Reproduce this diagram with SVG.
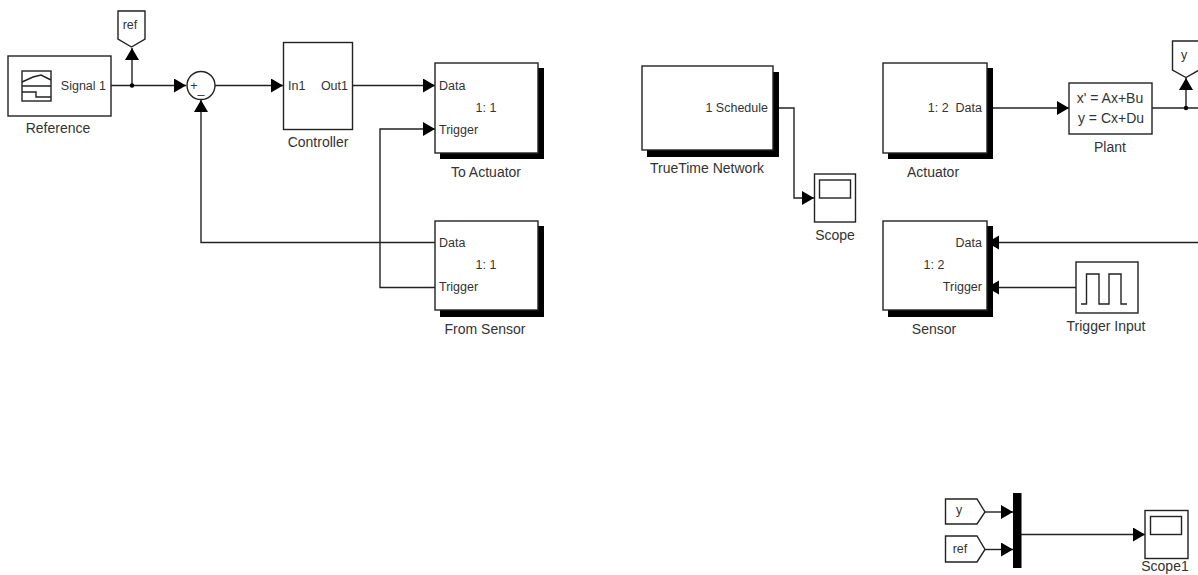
<svg xmlns="http://www.w3.org/2000/svg" width="1198" height="575" viewBox="0 0 1198 575">
<defs>
<marker id="a" markerUnits="userSpaceOnUse" markerWidth="14" markerHeight="16" refX="12" refY="7" orient="auto"><path d="M0 0L12 7L0 14z" fill="#000"/></marker>
</defs>
<style>
.b{fill:#fff;stroke:#222;stroke-width:1.4}
.s{fill:#000}
.c{fill:none;stroke:#222;stroke-width:1.4}
.ar{marker-end:url(#a)}
text{font-family:"Liberation Sans",Arial,sans-serif;font-size:12.5px;fill:#333;white-space:pre}
.n{font-size:14px}
.m{text-anchor:middle}
.e{text-anchor:end}
</style>
<rect width="1198" height="575" fill="#fff"/>
<g id="connectors">
<path class="c ar" d="M111 85.500H186"/>
<path class="c ar" d="M132 85.500V48"/>
<circle cx="132" cy="85.500" r="2.200" fill="#000"/>
<path class="c ar" d="M215 85.500H283"/>
<path class="c ar" d="M353 85.500H435"/>
<path class="c ar" d="M435 242.500H201V100"/>
<path class="c ar" d="M435 287.500H380V129H435"/>
<path class="c ar" d="M773 108H794V198H814"/>
<path class="c ar" d="M993 108H1069"/>
<path class="c" d="M1152 108H1198"/>
<path class="c ar" d="M1186 108V78"/>
<circle cx="1186" cy="108" r="2.200" fill="#000"/>
<path class="c ar" d="M1198 242.500H987"/>
<path class="c ar" d="M1076 287.500H987"/>
<path class="c ar" d="M985 512H1013"/>
<path class="c ar" d="M985 549.500H1013"/>
<path class="c ar" d="M1021 534.500H1145"/>
</g>
<g id="reference">
<rect class="b" x="8" y="56" width="103" height="60"/>
<rect class="b" x="22" y="71" width="29" height="30"/>
<path class="c" d="M22 86H51M22 82L33 77L41 75L51 80M22 92H36V97H51"/>
<text class="e" x="106" y="90">Signal 1</text>
<text class="m n" x="58" y="133">Reference</text>
</g>
<g id="ref-goto">
<path class="b" d="M118 11H145V39L131.500 47L118 39Z"/>
<text class="m" x="130" y="29">ref</text>
</g>
<g id="sum">
<circle class="b" cx="201" cy="85.500" r="14"/>
<text class="m" x="194" y="90">+</text>
<text class="m" x="201" y="93">_</text>
</g>
<g id="controller">
<rect class="b" x="283.500" y="42.500" width="69" height="87"/>
<text x="288" y="90">In1</text>
<text class="e" x="348" y="90">Out1</text>
<text class="m n" x="318" y="147">Controller</text>
</g>
<g id="to-actuator">
<rect class="s" x="440" y="68" width="104" height="91"/>
<rect class="b" x="435" y="63" width="103" height="90"/>
<text x="439" y="90">Data</text>
<text class="m" x="486" y="112">1: 1</text>
<text x="439" y="134">Trigger</text>
<text class="m n" x="486" y="177">To Actuator</text>
</g>
<g id="from-sensor">
<rect class="s" x="440" y="226" width="104" height="91"/>
<rect class="b" x="435" y="221" width="103" height="89"/>
<text x="439" y="247">Data</text>
<text class="m" x="486" y="269">1: 1</text>
<text x="439" y="291">Trigger</text>
<text class="m n" x="485" y="334">From Sensor</text>
</g>
<g id="truetime-network">
<rect class="s" x="647" y="72" width="132" height="85"/>
<rect class="b" x="642" y="66" width="131" height="84"/>
<text class="e" x="768" y="112">1 Schedule</text>
<text class="m n" x="707" y="173">TrueTime Network</text>
</g>
<g id="scope">
<rect class="b" x="814.500" y="174" width="41" height="48"/>
<rect class="b" x="819.500" y="180" width="31" height="18"/>
<text class="m n" x="835" y="240">Scope</text>
</g>
<g id="actuator">
<rect class="s" x="888" y="68" width="105" height="91"/>
<rect class="b" x="883" y="63" width="104" height="90"/>
<text class="e" x="982" y="112">1: 2  Data</text>
<text class="m n" x="933" y="177">Actuator</text>
</g>
<g id="plant">
<rect class="b" x="1069" y="83" width="83" height="51"/>
<text class="m n" x="1110" y="103">x' = Ax+Bu</text>
<text class="m n" x="1111" y="123">y = Cx+Du</text>
<text class="m n" x="1110" y="152">Plant</text>
</g>
<g id="y-goto">
<path class="b" d="M1172.500 41H1199V70L1186 77.500L1172.500 70Z"/>
<text class="m" x="1184" y="59">y</text>
</g>
<g id="sensor">
<rect class="s" x="888" y="226" width="105" height="91"/>
<rect class="b" x="883" y="221" width="104" height="89"/>
<text class="e" x="982" y="247">Data</text>
<text class="m" x="934" y="269">1: 2</text>
<text class="e" x="982" y="291">Trigger</text>
<text class="m n" x="934" y="334">Sensor</text>
</g>
<g id="trigger-input">
<rect class="b" x="1076" y="262" width="62" height="51"/>
<path class="c" d="M1081 304H1086.500V274H1099V304H1109V274H1121V304H1127"/>
<text class="m n" x="1106" y="331">Trigger Input</text>
</g>
<g id="y-from">
<path class="b" d="M945.500 499H977L985 512L977 524H945.500Z"/>
<text class="m" x="959" y="514">y</text>
</g>
<g id="ref-from">
<path class="b" d="M945.500 536H977L985 549.500L977 562H945.500Z"/>
<text class="m" x="960" y="553">ref</text>
</g>
<g id="mux">
<rect class="s" x="1013" y="493" width="8.500" height="75"/>
</g>
<g id="scope1">
<rect class="b" x="1145" y="510.500" width="43" height="48"/>
<rect class="b" x="1150.500" y="516.500" width="31" height="18"/>
<text class="m n" x="1165" y="571">Scope1</text>
</g>
</svg>
